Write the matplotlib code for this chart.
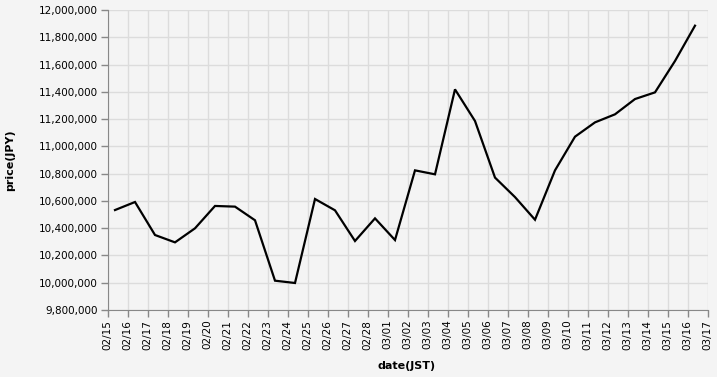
import pandas as pd
import matplotlib.pyplot as plt
import matplotlib.dates as mdates
from matplotlib.ticker import FuncFormatter

# daily prices (JPY), points sit at 09:00 JST
start = '2025-02-15 09:00'
prices = [10533000, 10592000, 10350000, 10296000, 10399000, 10563000,
          10558000, 10458000, 10015000, 9998000, 10614000, 10531000,
          10306000, 10472000, 10313000, 10824000, 10795000, 11418000,
          11186000, 10771000, 10628000, 10462000, 10824000, 11071000,
          11176000, 11235000, 11347000, 11396000, 11626000, 11885000]
dates = pd.date_range(start, periods=len(prices), freq='D')

bg = '#f4f4f4'
fig = plt.figure(figsize=(7.17, 3.77), dpi=100, facecolor=bg)
ax = fig.add_axes([107.5 / 717, 1 - 310 / 377, 600 / 717, 300 / 377])
ax.set_facecolor(bg)

ax.plot(dates, prices, color='black', linewidth=1.6, solid_joinstyle='miter')

ax.set_xlim(pd.Timestamp('2025-02-15'), pd.Timestamp('2025-03-17'))
ax.set_ylim(9800000, 12000000)
ax.set_yticks(range(9800000, 12000001, 200000))
ax.yaxis.set_major_formatter(FuncFormatter(lambda v, p: f'{int(v):,}'))
ax.xaxis.set_major_locator(mdates.DayLocator())
ax.xaxis.set_major_formatter(mdates.DateFormatter('%m/%d'))

ax.grid(True, color='#dcdcdc', linewidth=1)
ax.set_axisbelow(True)
for s in ['top', 'right']:
    ax.spines[s].set_visible(False)
for s in ['left', 'bottom']:
    ax.spines[s].set_color('#888888')
ax.tick_params(axis='both', colors='#888888', labelcolor='black', length=5,
               width=1, labelsize=7.5)
ax.tick_params(axis='x', labelrotation=90, pad=2)
ax.tick_params(axis='y', pad=2)

fig.text(10 / 717, 1 - 160 / 377, 'price(JPY)', rotation=90, ha='center',
         va='center', fontsize=8, fontweight='bold')
fig.text(407 / 717, 1 - 366 / 377, 'date(JST)', ha='center', va='center',
         fontsize=8, fontweight='bold')

fig.savefig('out.png', dpi=100, facecolor=bg)
